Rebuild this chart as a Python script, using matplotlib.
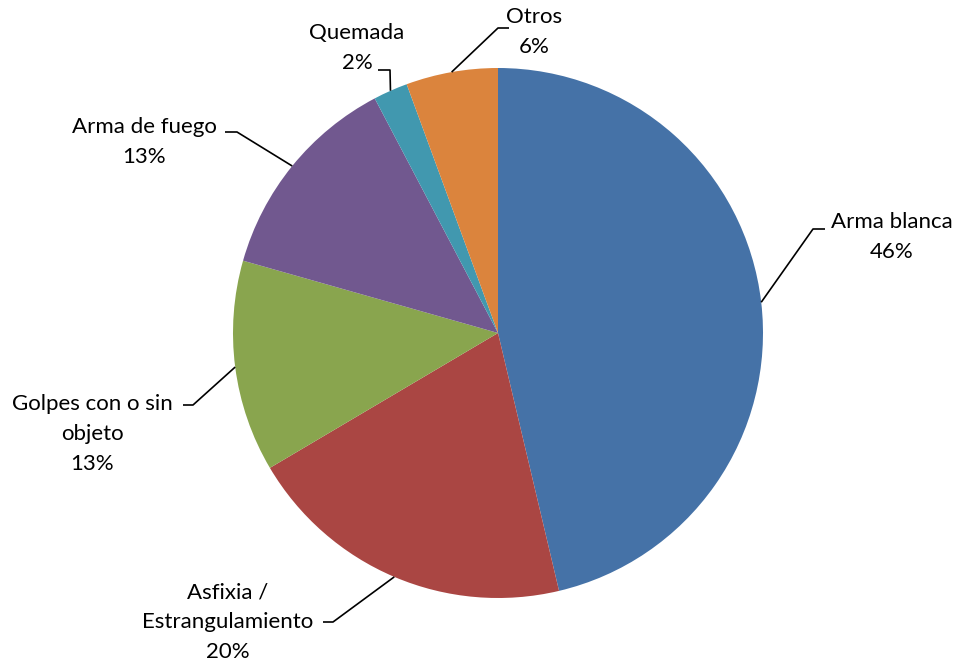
import numpy as np
import matplotlib
matplotlib.use('Agg')
import matplotlib.pyplot as plt

# data, clockwise from 12 o'clock
categories = ['Arma blanca', 'Asfixia /\nEstrangulamiento', 'Golpes con o sin\nobjeto',
              'Arma de fuego', 'Quemada', 'Otros']
shares = [46.3, 20.2, 12.9, 12.9, 2.1, 5.6]
colors = ['#4572A7', '#AA4643', '#89A54E', '#71588F', '#4198AF', '#DB843D']

W, H = 959, 664
CX, CY, R = 498, 333, 265

# label layout in pixels (top-left origin): text centre, elbow, end of leader
label_pos = [(892, 237), (228, 622), (92, 434), (144, 142), (357, 48), (534, 32)]
elbows = [(813, 229), (333, 622), (193, 405), (237, 132), (390, 70), (498, 28)]
ends = [(825, 229), (323, 622), (183, 405), (225, 132), (378, 70), (509, 28)]


def fy(y):
    return H - y


def main():
    plt.rcParams['font.family'] = ['Lato', 'DejaVu Sans']
    fig = plt.figure(figsize=(W / 100, H / 100), dpi=100)
    ax = fig.add_axes([0, 0, 1, 1])

    wedges, _ = ax.pie(shares, colors=colors, startangle=90, counterclock=False,
                       center=(CX, fy(CY)), radius=R,
                       wedgeprops=dict(linewidth=0))
    ax.set_xlim(0, W)
    ax.set_ylim(0, H)
    ax.set_aspect('equal')
    ax.axis('off')

    for w, name, v, tp, el, en in zip(wedges, categories, shares, label_pos, elbows, ends):
        mid = np.deg2rad((w.theta1 + w.theta2) / 2)
        sx = CX + R * np.cos(mid)
        sy = fy(CY) + R * np.sin(mid)
        ax.plot([sx, el[0], en[0]], [sy, fy(el[1]), fy(en[1])], color='black', lw=1.2,
                solid_capstyle='butt')
        ax.text(tp[0], fy(tp[1]), f'{name}\n{v:.0f}%', ha='center', va='center',
                multialignment='center', fontsize=16, linespacing=1.6, color='black')

    fig.savefig('out.png', dpi=100)


if __name__ == '__main__':
    main()
